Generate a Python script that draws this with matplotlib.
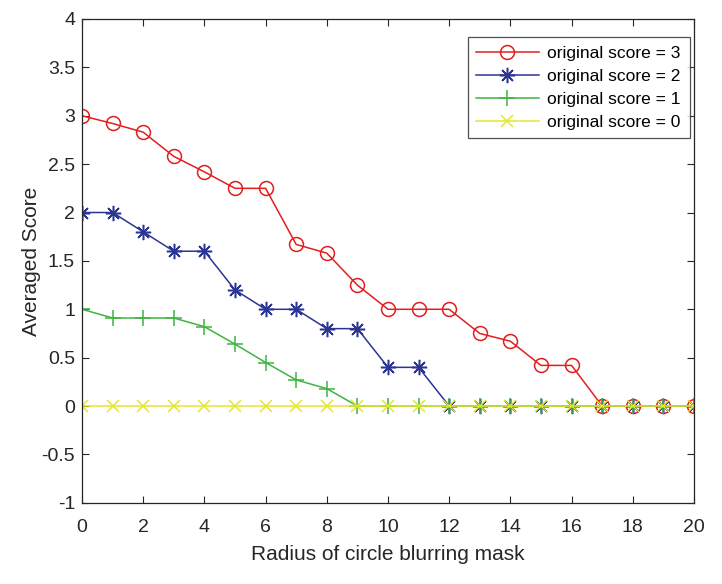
import numpy as np
import matplotlib
matplotlib.use('Agg')
import matplotlib.pyplot as plt

plt.rcParams['font.family'] = ['Liberation Sans', 'DejaVu Sans']

# data
radius = list(range(21))
score3 = [3, 2.92, 2.83, 2.58, 2.42, 2.25, 2.25, 1.67, 1.58, 1.25, 1, 1, 1,
          0.75, 0.67, 0.42, 0.42, 0, 0, 0, 0]
score2 = [2, 2, 1.8, 1.6, 1.6, 1.2, 1, 1, 0.8, 0.8, 0.4, 0.4, 0,
          0, 0, 0, 0, 0, 0, 0, 0]
score1 = [1, 0.91, 0.91, 0.91, 0.82, 0.64, 0.45, 0.27, 0.18, 0, 0, 0, 0,
          0, 0, 0, 0, 0, 0, 0, 0]
score0 = [0] * 21
labels = ['original score = 3', 'original score = 2',
          'original score = 1', 'original score = 0']

fig = plt.figure(figsize=(7.22, 5.84), dpi=100)
ax = fig.add_axes([0.1136, 0.139, 0.8476, 0.8285])

ax.plot(radius, score3, '-o', color='#e31e1e', mfc='none', ms=10, mew=1.1, lw=1.1, label=labels[0])
ax.plot(radius, score2, '-', marker=(8, 2, 0), color='#2b3594', ms=11, mew=1.1, lw=1.1, label=labels[1])
ax.plot(radius, score1, '-+', color='#3fb43f', ms=11, mew=1.1, lw=1.1, label=labels[2])
ax.plot(radius, score0, '-x', color='#e6e62c', ms=9, mew=1.1, lw=1.1, label=labels[3])

ax.set_xlim(0, 20)
ax.set_ylim(-1, 4)
ax.set_xticks(np.arange(0, 21, 2))
ax.set_yticks(np.arange(-1, 4.01, 0.5))
ax.set_yticklabels(['-1', '-0.5', '0', '0.5', '1', '1.5', '2', '2.5', '3', '3.5', '4'])
ax.tick_params(direction='in', top=True, right=True, labelsize=14, length=5, width=0.8,
               colors='#262626')
ax.tick_params(axis='x', pad=12)
ax.tick_params(axis='y', pad=5)
for s in ax.spines.values():
    s.set_color('#262626')
    s.set_linewidth(0.9)

ax.set_xlabel('Radius of circle blurring mask', fontsize=15, color='#262626', labelpad=6)
ax.set_ylabel('Averaged Score', fontsize=15, color='#262626', labelpad=0)

leg = ax.legend(loc='upper right', fontsize=12.5, frameon=True, fancybox=False,
                edgecolor='#262626', borderpad=0.5, labelspacing=0.45, handlelength=3.6,
                handletextpad=0.5, bbox_to_anchor=(1.007, 0.981))
leg.get_frame().set_linewidth(0.9)

fig.savefig('out.png', dpi=100)
